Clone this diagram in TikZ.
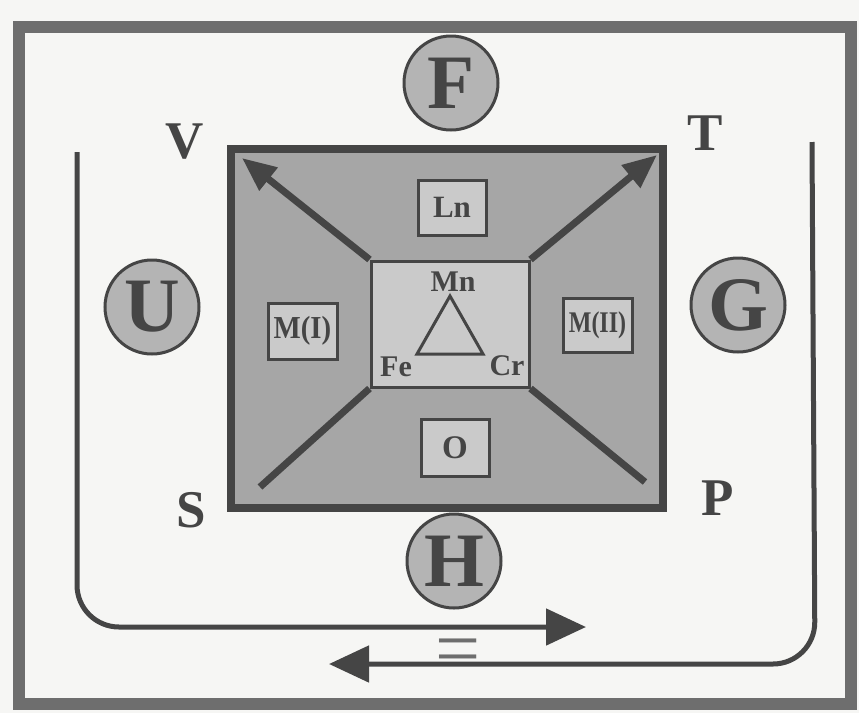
\documentclass[tikz,border=0pt]{standalone}
\usepackage{fontspec}
\setmainfont{Liberation Serif}
\usetikzlibrary{arrows.meta}
\definecolor{ink}{HTML}{454545}
\definecolor{frame}{HTML}{6E6E6E}
\definecolor{bigfill}{HTML}{A6A6A6}
\definecolor{midfill}{HTML}{CACACA}
\definecolor{circfill}{HTML}{B4B4B4}
\definecolor{paper}{HTML}{F6F6F4}
\begin{document}
\begin{tikzpicture}[x=1pt,y=-1pt,
  every node/.style={text=ink,font=\bfseries},
  bigletter/.style={circle,draw=ink,fill=circfill,line width=3pt,minimum size=94pt,inner sep=0pt,font=\fontsize{77}{77}\selectfont\bfseries},
  cornerletter/.style={font=\fontsize{53}{53}\selectfont\bfseries},
  smallbox/.style={rectangle,draw=ink,fill=midfill,line width=3pt,minimum width=68pt,minimum height=55pt,inner sep=0pt,font=\fontsize{31}{31}\selectfont\bfseries},
  elem/.style={font=\fontsize{30}{30}\selectfont\bfseries,inner sep=0pt},
  diag/.style={draw=ink,line width=7pt},
  diagarrow/.style={diag,-{Triangle[length=34pt,width=28pt]}},
  uline/.style={draw=ink,line width=3.5pt,rounded corners=42pt},
  flowarrow/.style={draw=ink,line width=5pt,-{Triangle[length=40pt,width=36pt]}}
]
\useasboundingbox (0,0) rectangle (859,713);
\fill[paper] (0,0) rectangle (859,713);
% outer frame
\draw[frame,line width=12pt] (19,27) rectangle (851,704);
% main gray box
\node[rectangle,draw=ink,fill=bigfill,line width=8pt,minimum width=432pt,minimum height=359pt,inner sep=0pt] (main) at (447,328.5) {};
% central box
\node[rectangle,draw=ink,fill=midfill,line width=3pt,minimum width=158pt,minimum height=126pt,inner sep=0pt] (cb) at (450,324) {};
% diagonals
\coordinate (tl) at (242,158);
\coordinate (tr) at (657,155);
\coordinate (bl) at (260,487);
\coordinate (br) at (645,482);
\draw[diagarrow] (cb.north west) -- (tl);
\draw[diagarrow] (cb.north east) -- (tr);
\draw[diag] (cb.south west) -- (bl);
\draw[diag] (cb.south east) -- (br);
% small boxes
\node[smallbox] (ln) at (452,207.5) {Ln};
\node[smallbox,minimum width=69pt,minimum height=56pt,font=\fontsize{32}{32}\selectfont\bfseries] (m1) at (302.5,331) {\scalebox{0.9}[1]{M(I)}};
\node[smallbox,minimum width=69pt,minimum height=54pt,font=\fontsize{30}{30}\selectfont\bfseries] (m2) at (597.5,325) {\scalebox{0.8}[1]{M(II)}};
\node[smallbox,minimum height=57pt,font=\fontsize{33}{33}\selectfont\bfseries] (o) at (455,447.5) {O};
% triangle
\coordinate (ta) at (450,296);
\coordinate (tb) at (417,354);
\coordinate (tc) at (483,354);
\draw[draw=ink,line width=3pt,line join=miter] (ta) -- (tb) -- (tc) -- cycle;
\node[elem] (mn) at (453,282) {Mn};
\node[elem] (fe) at (396,367) {Fe};
\node[elem] (cr) at (507,366) {Cr};
% circles
\node[bigletter] (F) at (451,83) {F};
\node[bigletter] (U) at (152,307) {U};
\node[bigletter] (G) at (738,305) {G};
\node[bigletter] (H) at (454,561) {H};
% corner letters
\node[cornerletter] (V) at (185,142) {V};
\node[cornerletter] (T) at (705,133) {T};
\node[cornerletter] (S) at (191,510) {S};
\node[cornerletter] (P) at (718,498) {P};
% flow lines
\coordinate (ls) at (77,152);
\coordinate (le) at (586,627);
\coordinate (rs) at (812,142);
\coordinate (re) at (329,664);
\draw[uline,flowarrow] (ls) -- (77,627) -- (le);
\draw[uline,flowarrow] (rs) -- (815,664) -- (re);
% equals sign
\node[font=\fontsize{80}{80}\selectfont,inner sep=0pt,text=frame] (eq) at (458,657) {=};
\end{tikzpicture}
\end{document}
